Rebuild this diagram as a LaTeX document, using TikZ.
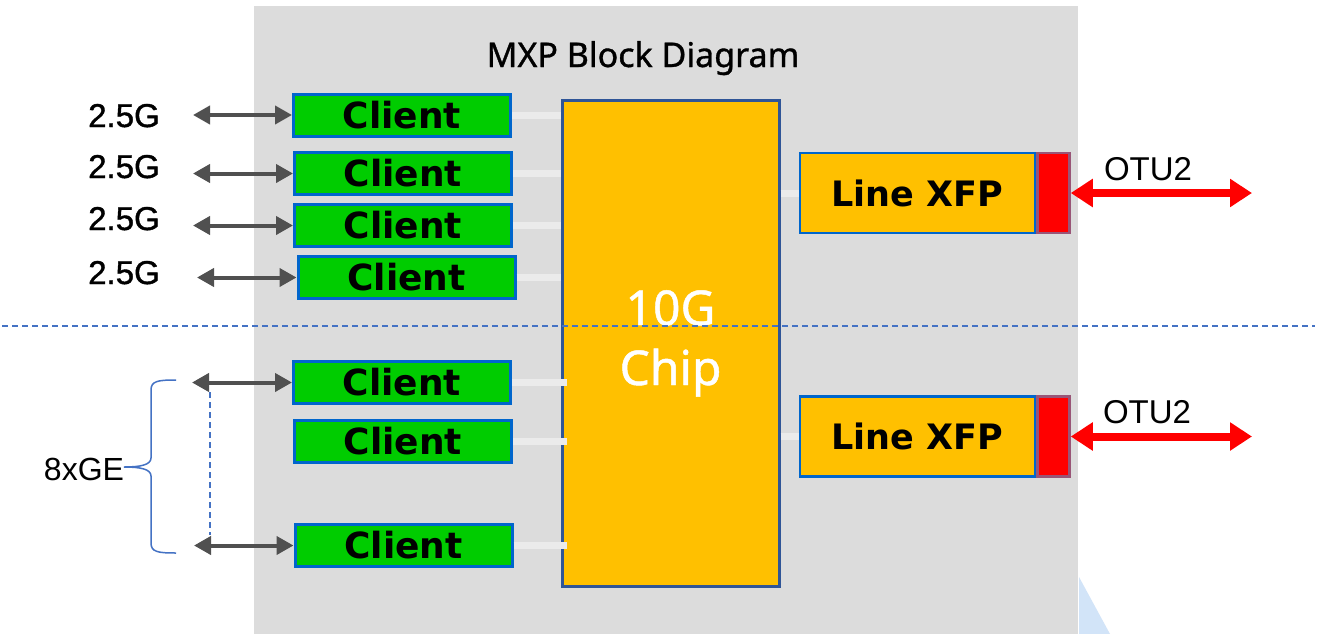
\documentclass[tikz,border=0pt]{standalone}
\usepackage{fontspec}
\usetikzlibrary{arrows.meta}
\newfontfamily\vfont{DejaVu Sans}
\newfontfamily\afont{Liberation Sans}
\newfontfamily\afontm{Liberation Sans}[FakeBold=1.2]
\newfontfamily\nfont{Noto Sans}
\newfontfamily\nfontm{Noto Sans}[FakeBold=1]
\definecolor{bggray}{HTML}{DCDCDC}
\definecolor{cgreen}{HTML}{00CC00}
\definecolor{cblue}{HTML}{0066CC}
\definecolor{corange}{HTML}{FFC000}
\definecolor{chipborder}{HTML}{2F5597}
\definecolor{redborder}{HTML}{995577}
\definecolor{agray}{HTML}{505050}
\definecolor{stubgray}{HTML}{EBEBEB}
\definecolor{dblue}{HTML}{4472C4}
\definecolor{wmblue}{HTML}{D2E4F8}
\begin{document}
\begin{tikzpicture}[x=1pt,y=-1pt,
  client/.style={draw=cblue,line width=3pt,fill=cgreen,minimum width=217pt,minimum height=42pt,inner sep=0pt,
    font=\vfont\bfseries\fontsize{36}{40}\selectfont},
  xfp/.style={draw=cblue,line width=2.5pt,fill=corange,minimum width=235pt,minimum height=80pt,inner sep=0pt,
    font=\vfont\bfseries\fontsize{35}{40}\selectfont},
  redbox/.style={draw=redborder,line width=2.5pt,fill=red,minimum width=32pt,minimum height=80pt,inner sep=0pt},
  chipbox/.style={draw=chipborder,line width=3pt,fill=corange,minimum width=217pt,minimum height=486pt,inner sep=0pt},
  garrow/.style={agray,line width=4pt,{Triangle[length=17pt,width=18pt]}-{Triangle[length=17pt,width=18pt]}},
  rarrow/.style={red,line width=8pt,{Triangle[length=22pt,width=27pt]}-{Triangle[length=22pt,width=27pt]}},
  stub/.style={stubgray,line width=7pt},
  lbl/.style={anchor=base,inner sep=0pt},
  glbl/.style={lbl,font=\afontm\fontsize{33}{36}\selectfont},
  dline/.style={dblue,line width=1.5pt,dash pattern=on 6pt off 4pt},
  brace/.style={dblue,line width=1.5pt}
]
\useasboundingbox (0,0) rectangle (1325,634);
\fill[white] (0,0) rectangle (1325,634);
% background panel
\fill[bggray] (254,6) rectangle (1078,634);
\fill[wmblue] (1079,577) -- (1110,634) -- (1079,634) -- cycle;
% title
\node[lbl,font=\nfontm\fontsize{34}{40}\selectfont] (title) at (643,67) {MXP Block Diagram};
% chip
\node[chipbox] (chip) at (670.5,343) {};
% clients
\node[client] (c1) at (402,115) {Client};
\node[client] (c2) at (403,173.5) {Client};
\node[client] (c3) at (403,225.5) {Client};
\node[client] (c4) at (406.5,277.5) {Client};
\node[client] (c5) at (402,382.5) {Client};
\node[client] (c6) at (403,441.5) {Client};
\node[client] (c7) at (403.5,545.5) {Client};
% line XFPs
\node[xfp] (x1) at (917.5,193) {Line XFP};
\node[redbox,anchor=west] (r1) at (x1.east) {};
\node[xfp] (x2) at (917.5,436.5) {Line XFP};
\node[redbox,anchor=west] (r2) at (x2.east) {};
% stubs
\draw[stub] (c1.east) -- (c1.east -| chip.west);
\draw[stub] (c2.east) -- (c2.east -| chip.west);
\draw[stub] (c3.east) -- (c3.east -| chip.west);
\draw[stub] (c4.east) -- (c4.east -| chip.west);
\draw[stub] (c5.east) -- ([xshift=6pt]c5.east -| chip.west);
\draw[stub] (c6.east) -- ([xshift=6pt]c6.east -| chip.west);
\draw[stub] (c7.east) -- ([xshift=6pt]c7.east -| chip.west);
\draw[stub] (x1.west -| chip.east) -- (x1.west);
\draw[stub] (x2.west -| chip.east) -- (x2.west);
% chip text
\node[lbl,text=white,font=\nfontm\fontsize{48}{56}\selectfont] (t10g) at (670.5,325) {10G};
\node[lbl,text=white,font=\nfontm\fontsize{48}{56}\selectfont] (tchip) at (670.5,385) {Chip};
% dashed separator
\coordinate (dl) at (2,326);
\coordinate (dr) at (1315,326);
\draw[dline] (dl) -- (dr);
% left arrows
\coordinate (a1) at (193,115);
\coordinate (a2) at (193,173.5);
\coordinate (a3) at (193,225.5);
\coordinate (a4) at (197,277.5);
\coordinate (a5) at (192,382.5);
\coordinate (a7) at (194,545.5);
\draw[garrow] (a1) -- (c1.west);
\draw[garrow] (a2) -- (c2.west);
\draw[garrow] (a3) -- (c3.west);
\draw[garrow] (a4) -- (c4.west);
\draw[garrow] (a5) -- (c5.west);
\draw[garrow] (a7) -- (c7.west);
% 2.5G labels
\node[glbl] (g1) at (124,127) {2.5G};
\node[glbl] (g2) at (124,178) {2.5G};
\node[glbl] (g3) at (124,230) {2.5G};
\node[glbl] (g4) at (124,284) {2.5G};
% GE group
\coordinate (v1) at (210,392);
\coordinate (v2) at (210,535);
\draw[dline] (v1) -- (v2);
\draw[brace] (176,380) .. controls (158,380) and (151,381) .. (151,390)
  -- (151,458) .. controls (151,465) and (140,467) .. (124,467)
  .. controls (140,467) and (151,469) .. (151,476)
  -- (151,543) .. controls (151,552) and (158,553) .. (176,553);
\node[lbl,font=\afont\fontsize{32}{36}\selectfont] (ge) at (84,480) {8xGE};
% OTU2 arrows
\coordinate (o1) at (1252,193);
\coordinate (o2) at (1252,436.5);
\draw[rarrow] (r1.east) -- (o1);
\draw[rarrow] (r2.east) -- (o2);
\node[lbl,font=\afont\fontsize{33}{38}\selectfont] (otu1) at (1148,180) {OTU2};
\node[lbl,font=\afont\fontsize{33}{38}\selectfont] (otu2) at (1147,423) {OTU2};
\end{tikzpicture}
\end{document}
